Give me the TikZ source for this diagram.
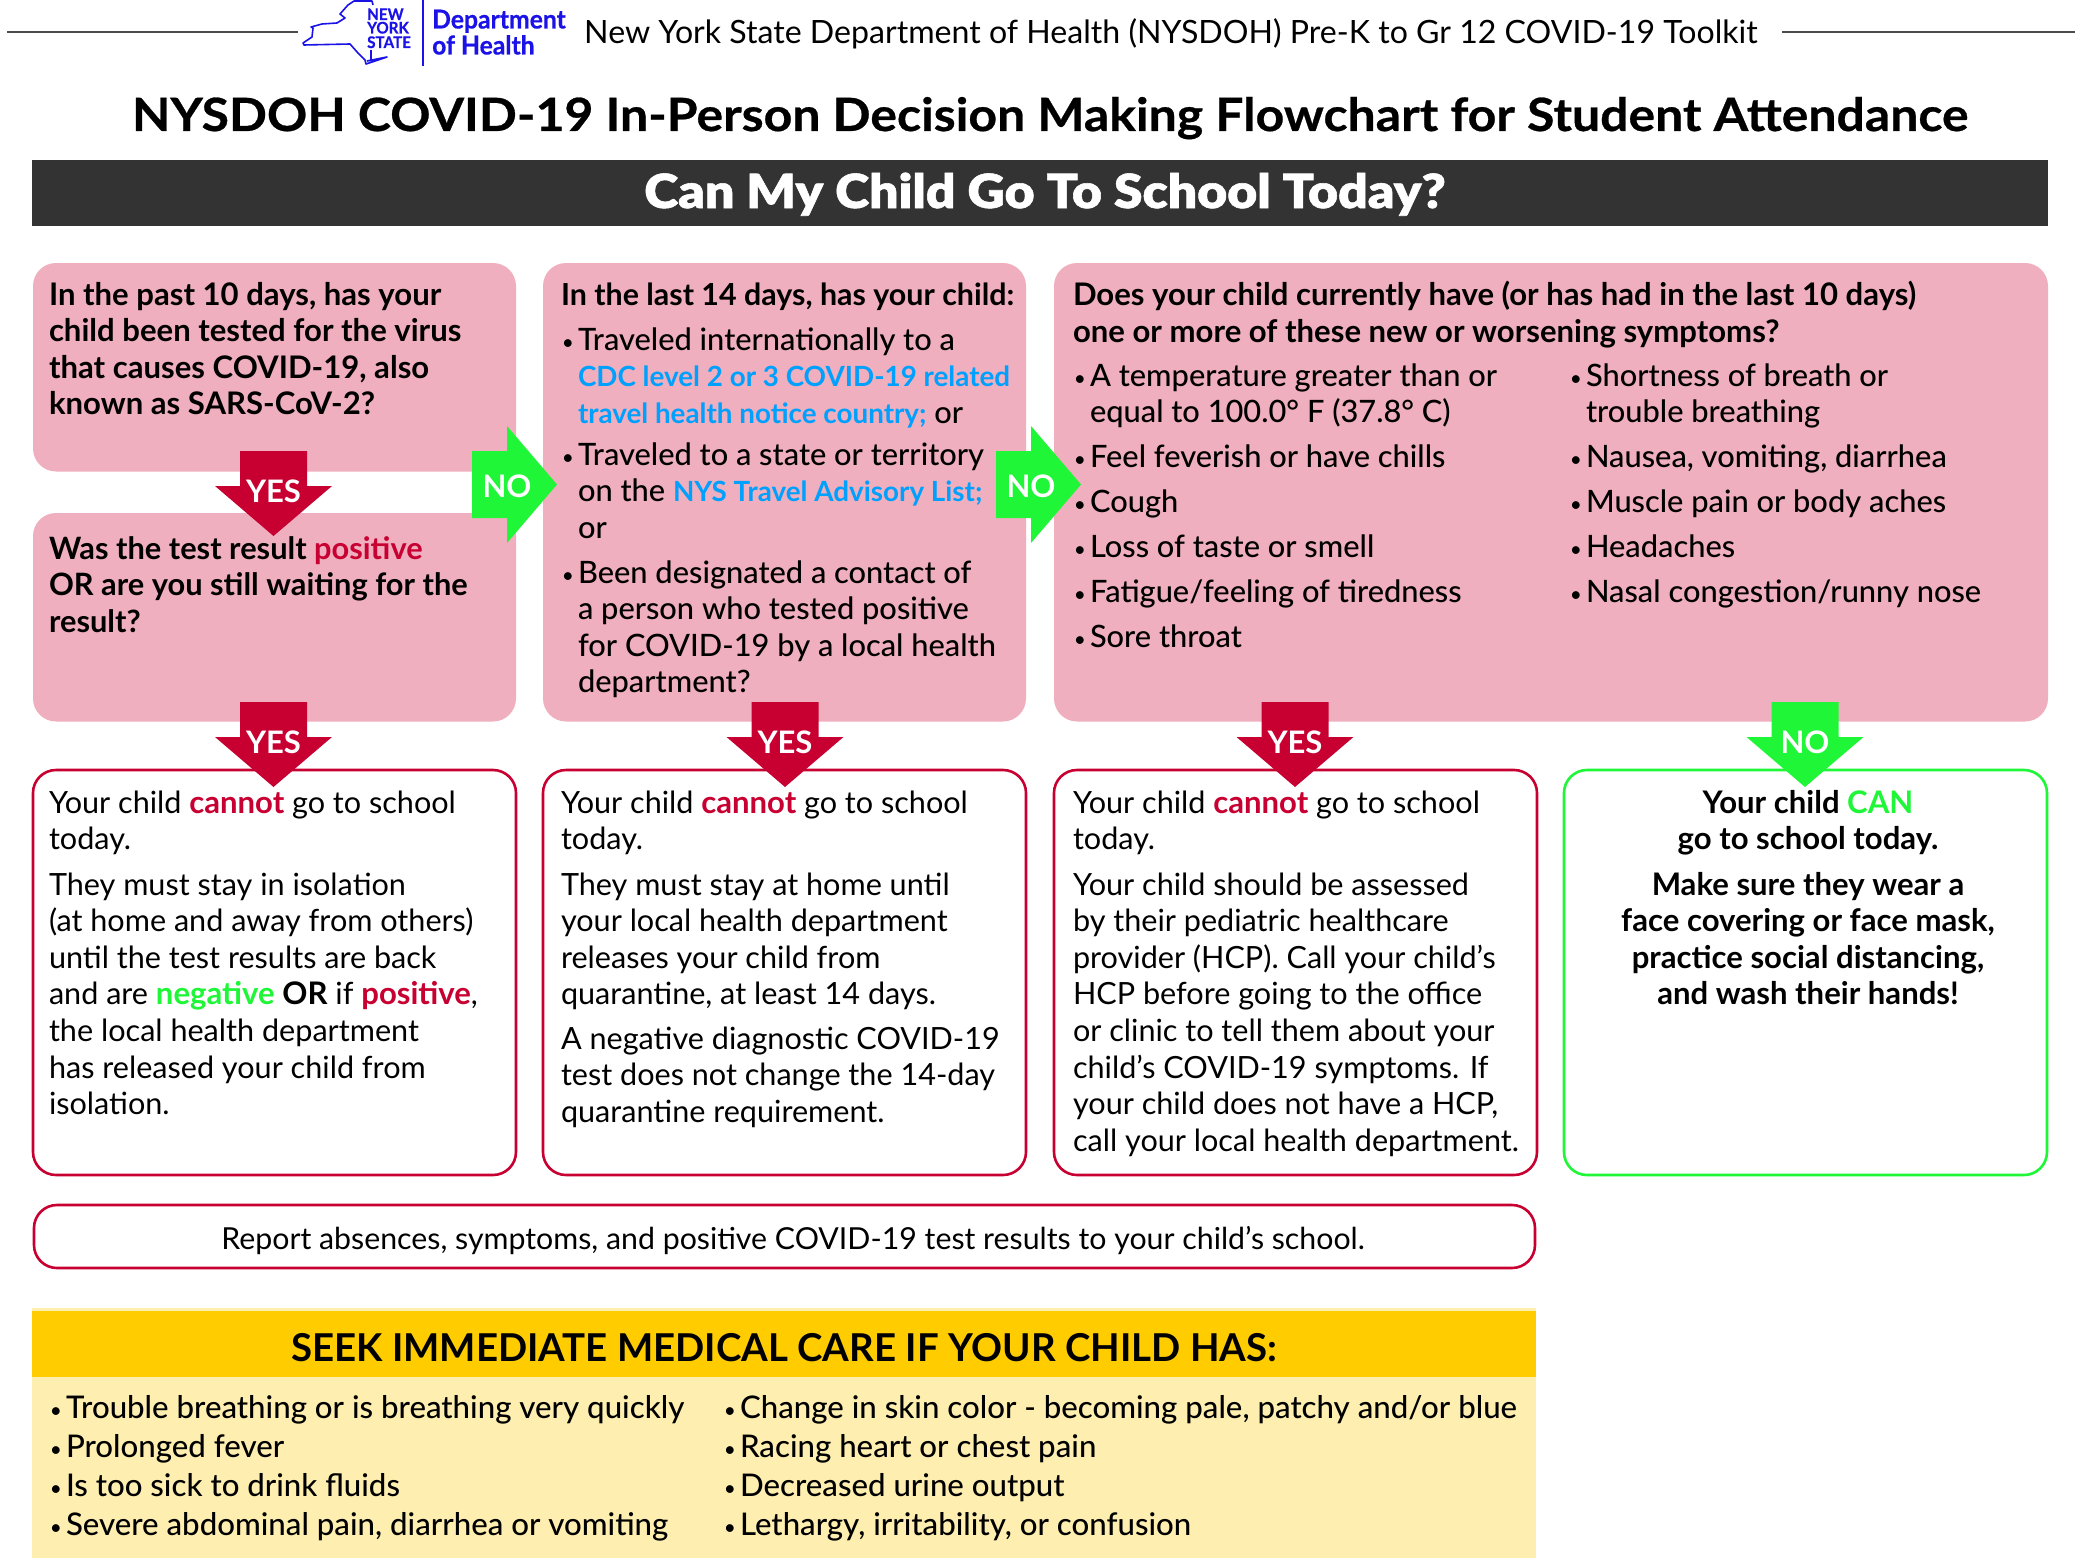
\documentclass[tikz,border=0pt]{standalone}
\usepackage{fontspec}
\setmainfont{Lato}
\newfontfamily\blackfont[FakeStretch=1.10,FakeBold=1.2]{Lato Black}
\newfontfamily\titlefont[FakeStretch=1.09,FakeBold=0.6]{Lato Bold}
\newfontfamily\condfont[FakeStretch=0.95,FakeBold=0.5]{Lato Bold}
\newfontfamily\medfont{Lato Medium}
\definecolor{pinkfill}{HTML}{F0AFBE}
\definecolor{redc}{HTML}{C80032}
\definecolor{greenc}{HTML}{1EF637}
\definecolor{linkblue}{HTML}{00A0FF}
\definecolor{barc}{HTML}{333333}
\definecolor{goldc}{HTML}{FFCC00}
\definecolor{paleg}{HTML}{FEEFB0}
\definecolor{nyblue}{HTML}{1A12E6}
\newcommand\Fq{\fontsize{30.6}{36.6}\selectfont}
\newcommand\Fm{\medfont\fontsize{30.8}{36.6}\selectfont}
\newcommand\Bs{\normalfont\fontsize{31.1}{36.6}\selectfont\bfseries}
\newcommand\Bt{\normalfont\fontsize{30.4}{36.6}\selectfont\bfseries}
\newcommand\Bu{\normalfont\fontsize{30.8}{36.6}\selectfont\bfseries}
\newcommand\bu{\makebox[16pt][l]{\raisebox{1pt}{\fontsize{20}{20}\selectfont •}}}
\newcommand\hi{\hspace*{16pt}}
\newcommand\rd[1]{\textcolor{redc}{#1}}
\newcommand\gn[1]{\textcolor{greenc}{#1}}
\newcommand\lk[1]{\textcolor{linkblue}{\normalfont\fontsize{27.8}{36.6}\selectfont\bfseries #1}}
\tikzset{
 x=1pt,y=-1pt,
 pinkbox/.style={fill=pinkfill,rounded corners=23pt,inner sep=0,outer sep=0},
 redbox/.style={draw=redc,line width=2.6pt,fill=white,rounded corners=23pt,inner sep=0,outer sep=0},
 greenbox/.style={draw=greenc,line width=2.6pt,fill=white,rounded corners=23pt,inner sep=0,outer sep=0},
 flatbox/.style={inner sep=0,outer sep=0},
 txt/.style={anchor=north west,inner sep=0,outer sep=0,align=left,font=\Fq},
 ptxt/.style={txt,font=\Fm},
 ctxt/.style={anchor=base,inner sep=0,outer sep=0},
 logotxt/.style={anchor=base west,inner sep=0,text=nyblue,font={\condfont\fontsize{16}{16}\selectfont}},
 depttxt/.style={anchor=base west,inner sep=0,text=nyblue,font={\condfont\fontsize{26}{26}\selectfont}},
 arrowlabel/.style={anchor=base,inner sep=0,text=white,font=\fontsize{31}{31}\selectfont\bfseries},
}
% box: name, style, x1,y1,x2,y2
\newcommand\bx[6]{\node[#2,anchor=north west,minimum width={(#5-#3)*1pt},minimum height={(#6-#4)*1pt}] (#1) at (#3,#4) {};}
% text block: style,name,x,first baseline,text
\newcommand\tb[5][txt]{\node[#1] (#2) at (#3,{#4-23}) {\rule{0pt}{24pt}#5};}
% down arrow: name, centre x, top y, colour, label
\newcommand\darrow[5]{\fill[#4] ({#2-33.5},#3) -- ({#2+33.5},#3) -- ({#2+33.5},{#3+35}) -- ({#2+58.5},{#3+35}) -- (#2,{#3+85}) -- ({#2-58.5},{#3+35}) -- ({#2-33.5},{#3+35}) -- cycle;
 \node[arrowlabel] (#1) at (#2,{#3+51}) {#5};}
% right arrow: name, left x
\newcommand\rarrow[3]{\fill[greenc] (#2,451) -- ({#2+35},451) -- ({#2+35},426) -- ({#2+85},484.5) -- ({#2+35},543) -- ({#2+35},518) -- (#2,518) -- cycle;
 \node[arrowlabel] (#1) at ({#2+35},497) {#3};}
\begin{document}
\begin{tikzpicture}
\useasboundingbox (0,0) rectangle (2080,1565);
\fill[white] (0,0) rectangle (2080,1565);
% header
\coordinate (hl1) at (7,32); \coordinate (hl2) at (298,32);
\coordinate (hr1) at (1782,32); \coordinate (hr2) at (2075,32);
\draw[line width=2pt,black!70] (hl1) -- (hl2);
\draw[line width=2pt,black!70] (hr1) -- (hr2);
% logo
\draw[nyblue,line width=1.6pt,line join=round] (373,5) -- (372,1) -- (354,1) -- (348,5) -- (340,14) -- (345,18) -- (337,23) -- (322,24) -- (311,27) -- (313,28) -- (312,37) -- (303,43) -- (304,45)
 -- (350,44) -- (358,53) -- (365,60) -- (366,64) -- (387,57) -- (367,61);
\draw[nyblue,line width=1.4pt] (371,50) -- (371,60);
\node[logotxt] (lg1) at (367,20) {NEW};
\node[logotxt] (lg2) at (367,33.5) {YORK};
\node[logotxt] (lg3) at (367,48) {STATE};
\coordinate (lgv1) at (423,0); \coordinate (lgv2) at (423,66);
\draw[nyblue,line width=1.4pt] (lgv1) -- (lgv2);
\node[depttxt] (dept1) at (432,28.5) {Department};
\node[depttxt] (dept2) at (432,54.5) {of Health};
\node[anchor=base west,inner sep=0,font=\fontsize{32.1}{33}\selectfont] (htitle) at (584,44) {New York State Department of Health (NYSDOH) Pre-K to Gr 12 COVID-19 Toolkit};
\node[ctxt,font=\titlefont\fontsize{45.8}{46}\selectfont] (title) at (1050,131) {NYSDOH COVID-19 In-Person Decision Making Flowchart for Student Attendance};
\bx{bar}{flatbox,fill=barc}{32}{160}{2048}{226}
\node[ctxt,text=white,font=\blackfont\fontsize{47}{47}\selectfont] (can) at (1045,208) {Can My Child Go To School Today?};
% pink boxes
\bx{p1}{pinkbox}{33}{263}{516}{471.5}
\bx{p2}{pinkbox}{33}{513}{516}{721.5}
\bx{p3}{pinkbox}{543}{263}{1026}{721.5}
\bx{p4}{pinkbox}{1054}{263}{2048}{721.5}
% outcome boxes
\bx{r1}{redbox}{33}{770}{516}{1175}
\bx{r2}{redbox}{543}{770}{1026}{1175}
\bx{r3}{redbox}{1054}{770}{1537}{1175}
\bx{g1}{greenbox}{1564}{770}{2047}{1175}
\bx{rep}{redbox}{34}{1205}{1535}{1268}
\bx{yb}{flatbox,fill=paleg}{32}{1308}{1536}{1558}
\bx{yh}{flatbox,fill=goldc}{32}{1311}{1536}{1377}
% question text
\tb{q1}{49}{304}{\Bs In the past 10 days, has your\\ \Bs child been tested for the virus\\ \Bs that causes COVID-19, also\\ \Bs known as SARS-CoV-2?}
\tb{q2}{49}{558}{\Bu Was the test result \rd{positive}\\ \Bu OR are you still waiting for the\\ \Bu result?}
\tb{q3}{561}{304}{\Bt In the last 14 days, has your child:}
\tb[ptxt]{q3a}{562}{349}{\bu Traveled internationally to a\\ \hi\lk{CDC level 2 or 3 COVID-19 related}\\ \hi\lk{travel health notice country;} or}
\tb[ptxt]{q3b}{562}{464}{\bu Traveled to a state or territory\\ \hi on the \lk{NYS Travel Advisory List;}\\ \hi or}
\tb[ptxt]{q3c}{562}{582}{\bu Been designated a contact of\\ \hi a person who tested positive\\ \hi for COVID-19 by a local health\\ \hi department?}
\tb{q4}{1073}{304}{\Bs Does your child currently have (or has had in the last 10 days)\\ \Bs one or more of these new or worsening symptoms?}
\tb[ptxt]{s1}{1074}{385}{\bu A temperature greater than or\\ \hi equal to 100.0° F (37.8° C)}
\tb[ptxt]{s2}{1074}{466}{\bu Feel feverish or have chills}
\tb[ptxt]{s3}{1074}{511}{\bu Cough}
\tb[ptxt]{s4}{1074}{556}{\bu Loss of taste or smell}
\tb[ptxt]{s5}{1074}{601}{\bu Fatigue/feeling of tiredness}
\tb[ptxt]{s6}{1074}{646}{\bu Sore throat}
\tb[ptxt]{t1}{1570}{385}{\bu Shortness of breath or\\ \hi trouble breathing}
\tb[ptxt]{t2}{1570}{466}{\bu Nausea, vomiting, diarrhea}
\tb[ptxt]{t3}{1570}{511}{\bu Muscle pain or body aches}
\tb[ptxt]{t4}{1570}{556}{\bu Headaches}
\tb[ptxt]{t5}{1570}{601}{\bu Nasal congestion/runny nose}
% outcome text
\tb{o1a}{49}{812}{Your child \rd{\Bs cannot} go to school\\ today.}
\tb{o1b}{49}{894}{They must stay in isolation\\ (at home and away from others)\\ until the test results are back\\ and are \gn{\Bs negative} \textcolor{black}{\Bs OR} if \rd{\Bs positive},\\ the local health department\\ has released your child from\\ isolation.}
\tb{o2a}{561}{812}{Your child \rd{\Bs cannot} go to school\\ today.}
\tb{o2b}{561}{894}{They must stay at home until\\ your local health department\\ releases your child from\\ quarantine, at least 14 days.}
\tb{o2c}{561}{1048}{A negative diagnostic COVID-19\\ test does not change the 14-day\\ quarantine requirement.}
\tb{o3a}{1073}{812}{Your child \rd{\Bs cannot} go to school\\ today.}
\tb{o3b}{1073}{894}{Your child should be assessed\\ by their pediatric healthcare\\ provider (HCP). Call your child’s\\ HCP before going to the office\\ or clinic to tell them about your\\ child’s COVID-19 symptoms. If\\ your child does not have a HCP,\\ call your local health department.}
\node[txt,anchor=north,align=center] (o4a) at (1808,789) {\rule{0pt}{24pt}\Bs Your child \gn{CAN}\\ \Bs go to school today.};
\node[txt,anchor=north,align=center] (o4b) at (1808,871) {\rule{0pt}{24pt}\Bs Make sure they wear a\\ \Bs face covering or face mask,\\ \Bs practice social distancing,\\ \Bs and wash their hands!};
\node[ctxt,font=\fontsize{30.3}{36}\selectfont] (reptxt) at (793,1249) {Report absences, symptoms, and positive COVID-19 test results to your child’s school.};
\node[ctxt,font=\fontsize{38.4}{38}\selectfont\bfseries] (seek) at (784,1361) {SEEK IMMEDIATE MEDICAL CARE IF YOUR CHILD HAS:};
% care list
\node[txt,font=\medfont\fontsize{31.2}{39.3}\selectfont] (c1) at (50,1394) {\rule{0pt}{24pt}\bu Trouble breathing or is breathing very quickly\\ \bu Prolonged fever\\ \bu Is too sick to drink fluids\\ \bu Severe abdominal pain, diarrhea or vomiting};
\node[txt,font=\medfont\fontsize{31.2}{39.3}\selectfont] (c2) at (724,1394) {\rule{0pt}{24pt}\bu Change in skin color - becoming pale, patchy and/or blue\\ \bu Racing heart or chest pain\\ \bu Decreased urine output\\ \bu Lethargy, irritability, or confusion};
% arrows
\darrow{y1}{273.5}{451}{redc}{YES}
\darrow{y2}{273.5}{702}{redc}{YES}
\darrow{y3}{785}{702}{redc}{YES}
\darrow{y4}{1295}{702}{redc}{YES}
\darrow{n3}{1805}{702}{greenc}{NO}
\rarrow{n1}{472}{NO}
\rarrow{n2}{996}{NO}
\end{tikzpicture}
\end{document}
